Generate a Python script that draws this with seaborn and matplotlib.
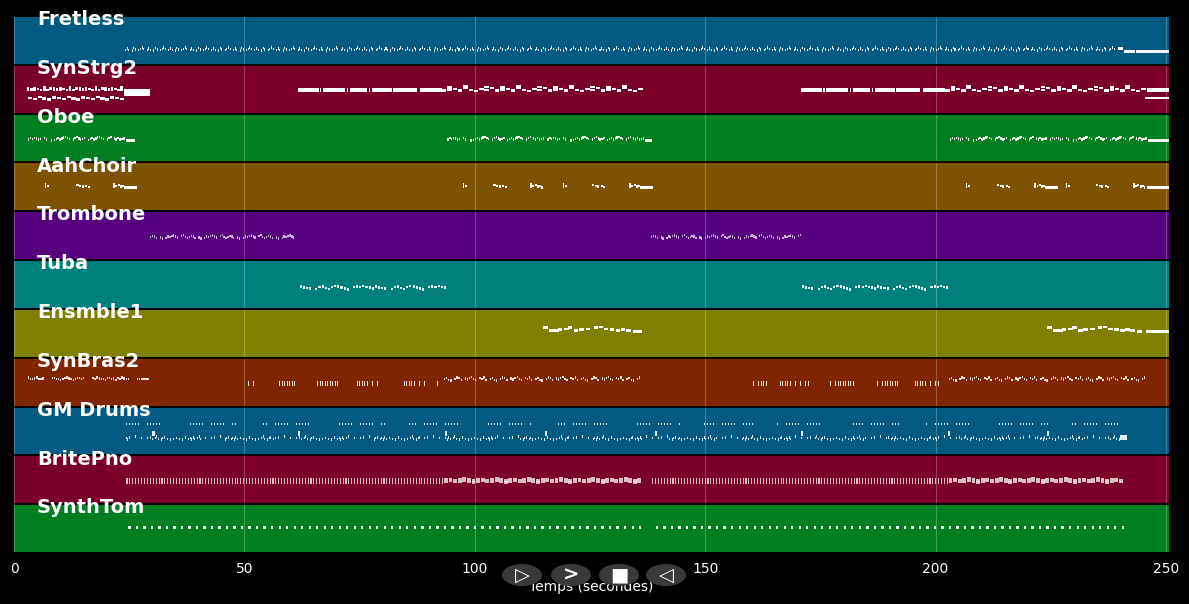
import matplotlib
matplotlib.use("Agg")
import matplotlib.pyplot as plt
from matplotlib.patches import Ellipse
import seaborn as sns

# Track names and band colours (top to bottom)
tracks = ["Fretless", "SynStrg2", "Oboe", "AahChoir", "Trombone", "Tuba",
          "Ensmble1", "SynBras2", "GM Drums", "BritePno", "SynthTom"]
track_colors = ["#005a82", "#7b0029", "#007f22", "#7f5200", "#56007f", "#007f7f",
                "#7f7f00", "#7f2500", "#005a82", "#7b0029", "#007f22"]
track_alpha = [0.95, 1.0, 0.95, 1.0, 0.7, 0.9, 1.0, 0.85, 0.9, 0.75, 0.95]

# runs: (start s, end s, step s, note length s, pitch cycle); 0 = rest, tuple = chord
# notes: (start s, length s, pitch)
fretless_runs = [(24.1, 239.3, 0.36, 0.22, [37, 41, 38, 0, 36, 42, 39, 0, 37, 40, 44, 40, 0])]
fretless_notes = [(239.6, 1.0, 41), (240.9, 2.4, 33), (243.5, 2.5, 33), (246.2, 4.4, 33)]

strg_runs = [
    (2.8, 23.8, 0.7, 0.55, [(62, 67), 63, (62, 66), 64, 62, (63, 68), 62, 65]),
    (3.0, 23.8, 1.05, 0.9, [40, 37, 42, 38, 36, 41]),
    (92.9, 135.8, 1.15, 0.95, [60, (62, 68), 64, 60, (66, 71), 62, 58, 64, (62, 69), 66]),
    (202.1, 245.7, 1.15, 0.95, [60, (62, 68), 64, 60, (66, 71), 62, 58, 64, (62, 69), 66]),
]
strg_long_starts = [61.6, 66.4, 67.1, 72.2, 72.9, 77.0, 77.7, 82.2, 88.1,
                    170.8, 175.6, 176.3, 181.4, 182.1, 186.2, 186.9, 191.4, 197.3, 245.9]
strg_long_lengths = [4.6, 0.3, 4.7, 0.3, 3.7, 0.3, 4.3, 5.3, 4.8,
                     4.6, 0.3, 4.7, 0.3, 3.7, 0.3, 4.3, 5.3, 4.8, 4.7]
strg_notes = [(23.9, 5.6, 48), (23.9, 5.6, 55), (23.9, 5.6, 62), (245.5, 5.1, 39)]

oboe_phrase_starts = [3.0, 94.0, 115.7, 203.1, 224.8]
oboe_phrase_runs = [
    (0.0, 4.3, 0.43, 0.3, [60, 63, 61, 64, 62, 59, 61, 0, 63, 60]),
    (5.0, 5.3, 0.43, 0.3, [57]),
    (5.6, 18.0, 0.41, 0.3, [58, 61, 63, 60, 62, 65, 67, 63, 61, 0, 60, 63, 66, 62, 59, 61, 64, 0]),
    (18.6, 20.8, 0.42, 0.3, [62, 60, 63, 59, 61]),
]
oboe_notes = [(24.2, 2.1, 57), (137.0, 1.5, 57), (246.0, 4.6, 57)]

aah_shape_s = [(0.0, 0.3, 70), (0.0, 0.3, 63), (0.5, 0.3, 66)]
aah_shape_m = [(0.0, 0.5, 69), (0.6, 0.5, 66), (1.2, 0.4, 64), (1.9, 0.5, 66), (2.5, 0.4, 63)]
aah_shape_l = [(0.0, 0.4, 70), (0.0, 0.4, 63), (0.5, 0.4, 66), (1.0, 0.4, 68),
               (1.5, 0.4, 64), (2.0, 0.4, 66), (2.4, 0.3, 62)]
aah_hits = [(6.7, "S"), (13.5, "M"), (21.5, "L"), (97.4, "S"), (104.0, "M"), (112.0, "L"),
            (119.1, "S"), (125.4, "M"), (133.5, "L"), (206.6, "S"), (213.3, "M"), (221.4, "L"),
            (228.3, "S"), (234.8, "M"), (242.8, "L")]
aah_notes = [(24.1, 2.6, 62), (136.3, 2.4, 62), (224.2, 2.4, 62), (245.9, 4.7, 62)]

trombone_cycle = [60, 63, 61, 58, 0, 59, 56, 0, 58, 61, 60, 62, 64, 61, 59, 0, 62, 65, 60, 58]
trombone_runs = [(29.5, 61.4, 0.42, 0.28, trombone_cycle), (138.2, 170.6, 0.42, 0.28, trombone_cycle)]

tuba_cycle = [58, 55, 54, 53, 0, 51, 56, 58, 54, 52, 57, 59, 58, 55, 53, 50, 0, 56, 58, 57, 59, 56, 55, 53]
tuba_runs = [(62.0, 93.3, 0.68, 0.45, tuba_cycle), (171.0, 202.7, 0.68, 0.45, tuba_cycle)]

ens_starts = [114.8, 224.2]
ens_onsets = [0.0, 1.3, 2.4, 3.2, 4.6, 5.4, 6.7, 7.8, 9.3, 11.0, 12.1, 13.2, 14.5, 15.8, 16.9, 18.0, 19.5]
ens_pitches = [79, 71, 71, 74, 76, 79, 71, 74, 76, 79, 81, 76, 74, 71, 74, 71, 68]
ens_notes = [(134.9, 1.4, 68), (245.7, 4.9, 68)]

bras_cycle = [72, 75, 70, 68, 0, 72, 76, 74, 70, 0, 73, 71, 75, 77, 72, 70, 0, 74, 72, 76, 70, 0]
bras_runs = [
    (3.0, 6.3, 0.45, 0.3, [76, 72, 72, 73]),
    (8.2, 15.0, 0.45, 0.3, [75, 74, 72, 72, 70, 72, 75, 76, 73, 72, 70, 72, 74, 75, 72]),
    (17.0, 24.7, 0.45, 0.3, [74, 72, 76, 73, 72, 72, 70, 74, 75, 72, 73, 70]),
    (26.7, 29.1, 0.45, 0.3, [72]),
    (93.3, 135.8, 0.45, 0.3, bras_cycle),
    (202.9, 245.5, 0.45, 0.3, bras_cycle),
]
bras_stab_spans = [(50.8, 52.3), (57.0, 61.4), (65.8, 70.7), (74.4, 79.9), (84.6, 89.8), (91.8, 92.2),
                   (160.4, 163.4), (166.2, 172.7), (177.1, 182.1), (187.3, 191.8), (195.5, 200.5)]

drum_hat_cycle = [82, 82, 82, 82, 82, 0, 0]
drum_kick_cycle = [44, 40, 46, 42, 0, 44, 48, 42, 0, 40, 44, 46, 0, 42]
drum_runs = [(24.3, 240.0, 0.66, 0.15, drum_hat_cycle), (24.3, 240.0, 0.33, 0.15, drum_kick_cycle)]
drum_crashes = [30.0, 61.6, 93.5, 115.2, 139.1, 170.8, 202.7, 224.2]
drum_notes = [(240.0, 1.5, 42), (240.0, 1.5, 48)]

pno_block_cycle = [(58, 64), (60, 66), (57, 63), (59, 65), (61, 67), (58, 64), (56, 62)]
pno_runs = [
    (24.3, 93.2, 0.33, 0.12, [(56, 64)]),
    (93.3, 135.9, 1.0, 0.85, pno_block_cycle),
    (138.5, 202.6, 0.33, 0.12, [(56, 64)]),
    (202.8, 240.1, 1.0, 0.85, pno_block_cycle),
]

tom_runs = [(24.8, 136.2, 1.63, 0.5, [67]), (139.3, 240.5, 1.63, 0.5, [67])]

tick_values = [0, 50, 100, 150, 200, 250]
button_symbols = ["▷", ">", "■", "◁"]


def expand(runs, offset=0.0):
    xs, ws, ys = [], [], []
    for start, end, step, dur, cycle in runs:
        k = 0
        t = start
        while t < end - 1e-9:
            p = cycle[k % len(cycle)]
            for q in (p if isinstance(p, tuple) else (p,)):
                if q:
                    xs.append(t + offset)
                    ws.append(dur)
                    ys.append(q)
            k += 1
            t = start + k * step
    return xs, ws, ys


def add_notes(acc, notes):
    for s, d, p in notes:
        acc[0].append(s)
        acc[1].append(d)
        acc[2].append(p)


# Build note lists per track
track_notes = []

acc = expand(fretless_runs)
add_notes(acc, fretless_notes)
track_notes.append(acc)

acc = expand(strg_runs)
for s, d in zip(strg_long_starts, strg_long_lengths):
    add_notes(acc, [(s, d, 58), (s, d, 64)])
add_notes(acc, strg_notes)
track_notes.append(acc)

acc = ([], [], [])
for s in oboe_phrase_starts:
    e = expand(oboe_phrase_runs, s)
    for i in range(3):
        acc[i].extend(e[i])
add_notes(acc, oboe_notes)
track_notes.append(acc)

acc = ([], [], [])
shapes = {"S": aah_shape_s, "M": aah_shape_m, "L": aah_shape_l}
for t0, kind in aah_hits:
    add_notes(acc, [(t0 + o, d, p) for o, d, p in shapes[kind]])
add_notes(acc, aah_notes)
track_notes.append(acc)

track_notes.append(expand(trombone_runs))
track_notes.append(expand(tuba_runs))

acc = ([], [], [])
for s in ens_starts:
    add_notes(acc, [(s + o, 1.0, p) for o, p in zip(ens_onsets, ens_pitches)])
add_notes(acc, ens_notes)
track_notes.append(acc)

acc = expand(bras_runs)
stabs = expand([(a, b, 0.55, 0.18, [(56, 63)]) for a, b in bras_stab_spans])
for i in range(3):
    acc[i].extend(stabs[i])
track_notes.append(acc)

acc = expand(drum_runs)
for c in drum_crashes:
    add_notes(acc, [(c, 0.5, 54), (c, 0.5, 60)])
add_notes(acc, drum_notes)
track_notes.append(acc)

track_notes.append(expand(pno_runs))
track_notes.append(expand(tom_runs))

# Figure
sns.set_theme(style="dark", rc={"figure.facecolor": "black", "axes.facecolor": "black",
                                "text.color": "white", "xtick.color": "white",
                                "axes.labelcolor": "white"})
plt.rcParams["font.family"] = ["DejaVu Sans"]

fig, axes = plt.subplots(len(tracks), 1, sharex=True, figsize=(11.89, 6.04), dpi=100)
fig.subplots_adjust(left=14 / 1189, right=1169 / 1189, top=1 - 17 / 604, bottom=1 - 552 / 604,
                    hspace=0.045)

for ax, name, color, alpha, (xs, ws, ys) in zip(axes, tracks, track_colors, track_alpha, track_notes):
    ax.set_facecolor(color)
    ax.barh(ys, ws, left=xs, height=6.5, color="white", alpha=alpha, linewidth=0, zorder=3)
    ax.set_ylim(0, 127)
    ax.set_xlim(0, 250.65)
    ax.set_yticks([])
    ax.set_xticks(tick_values)
    ax.grid(axis="x", color="white", alpha=0.25, linewidth=0.8)
    ax.grid(axis="y", visible=False)
    for sp in ax.spines.values():
        sp.set_visible(False)
    ax.text(5.0, 120, name, color="white", fontsize=14, fontweight="bold",
            va="center", ha="left", clip_on=False, zorder=10)
    ax.tick_params(axis="x", length=0, labelbottom=False)

axes[-1].tick_params(axis="x", length=4, width=0.8, color="white", labelbottom=True,
                     labelcolor="white", labelsize=10, pad=3)
axes[-1].set_xlabel("Temps (secondes)", color="white", fontsize=10, labelpad=3)

# Playback buttons under the axis
W, H = 1189, 604
for cx, sym in zip([522, 571, 619, 666], button_symbols):
    fig.add_artist(Ellipse((cx / W, 1 - 575 / H), 40 / W, 22 / H, transform=fig.transFigure,
                           facecolor="#3a3a3a", edgecolor="none", zorder=20))
    fig.text(cx / W, 1 - 575 / H, sym, color="white", fontsize=14, fontweight="bold",
             ha="center", va="center", zorder=21)

fig.savefig("out.png", dpi=100, facecolor="black")
